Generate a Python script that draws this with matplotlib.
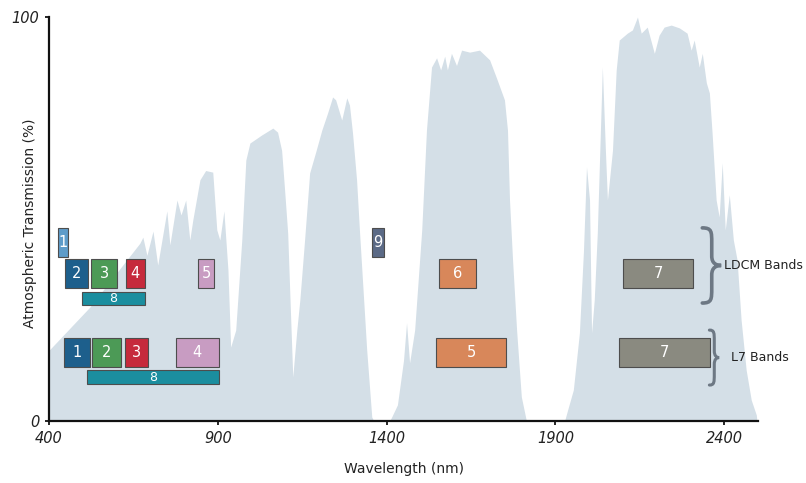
import matplotlib
matplotlib.use("Agg")
import matplotlib.pyplot as plt
from matplotlib.patches import Rectangle, PathPatch
from matplotlib.path import Path

# ---- transmission curve ----
wavelength = [400, 521, 669, 678, 690, 708, 722, 749, 758, 779, 791, 805, 817, 826, 847, 864, 885,
              897, 906, 918, 930, 938, 953, 971, 983, 995, 1030, 1063, 1077, 1089, 1098, 1107, 1116,
              1122, 1134, 1143, 1157, 1172, 1190, 1208, 1225, 1240, 1249, 1267, 1282, 1290, 1299,
              1311, 1320, 1332, 1341, 1356, 1362, 1409, 1415, 1432, 1450, 1459, 1468, 1483, 1504,
              1518, 1533, 1548, 1560, 1572, 1580, 1592, 1607, 1622, 1646, 1675, 1705, 1725, 1749,
              1758, 1764, 1773, 1785, 1799, 1814, 1927, 1936, 1953, 1971, 1983, 1992, 2001, 2007,
              2015, 2024, 2039, 2048, 2054, 2069, 2080, 2089, 2113, 2128, 2143, 2154, 2172, 2193,
              2207, 2222, 2243, 2267, 2290, 2302, 2311, 2326, 2335, 2347, 2356, 2364, 2376, 2385,
              2394, 2403, 2415, 2427, 2438, 2450, 2465, 2480, 2495, 2497]
transmission = [17.5, 28.2, 44.0, 45.5, 41, 47, 38.6, 52, 43.6, 54.7, 51, 54.7, 44.8, 49.8, 59.7, 62, 61.6,
                47.3, 44.8, 52, 37.4, 18.3, 22.5, 44.8, 64.6, 68.8, 70.8, 72.5, 71.5, 67, 57, 46.5, 25,
                10.9, 22.5, 30, 44.8, 61.4, 66.6, 72, 76.2, 80.2, 79.5, 74.5, 80, 78.2, 71.3,
                59.7, 46.5, 30, 17.6, 1, 0, 0, 1, 4, 15, 24.3, 14.4, 22.5, 47.3,
                72, 87.6, 89.9, 86.9, 90.3, 86.9, 91, 88, 91.8, 91.3, 91.8, 89.4, 85, 79.5,
                72, 54.7, 39.9, 22.5, 6, 0, 0, 2.7, 7.7, 21.8, 42, 62.9, 54.7, 21.8,
                30, 46.5, 87.6, 67, 54.7, 67, 86.9, 94.3, 96, 96.8, 100, 96, 97.5, 91,
                95.5, 97.5, 98, 97.3, 96, 91.8, 94.3, 87.6, 91, 83.7, 81.2, 71.3, 54.7, 50.5,
                63.9, 47.3, 56, 44.8, 39.9, 25, 12.6, 5.2, 1.5, 0]

# ---- LDCM (Landsat 8) bands ----
ldcm_labels = ['1', '2', '3', '4', '5', '8', '9', '6', '7']
ldcm_lo = [428, 447, 524, 628, 842, 497, 1357, 1555, 2101]
ldcm_hi = [457, 516, 602, 684, 889, 684, 1392, 1665, 2308]
ldcm_row = ['top', 'main', 'main', 'main', 'main', 'pan', 'top', 'main', 'main']
ldcm_colors = ['#5e9cc9', '#1d5f8c', '#4c9a56', '#c62a3c', '#c89cc2', '#1b8e9f',
               '#5b6a86', '#d8875a', '#8a8a80']

# ---- Landsat 7 bands ----
l7_labels = ['1', '2', '3', '4', '8', '5', '7']
l7_lo = [445, 526, 625, 775, 514, 1547, 2089]
l7_hi = [521, 613, 694, 904, 904, 1754, 2357]
l7_row = ['main', 'main', 'main', 'main', 'pan', 'main', 'main']
l7_colors = ['#1d5f8c', '#4c9a56', '#c62a3c', '#c89cc2', '#1b8e9f', '#d8875a', '#8a8a80']

x_ticks = [400, 900, 1400, 1900, 2400]
y_ticks = [0, 100]

# layout of rows (y extents in % units)
ldcm_rows = {'top': (40.7, 47.8), 'main': (33.0, 40.0), 'pan': (28.6, 32.0)}
l7_rows = {'main': (13.4, 20.6), 'pan': (9.1, 12.6)}

fig = plt.figure(figsize=(8.06, 4.83), dpi=100)
ax = fig.add_axes([49 / 806, 1 - 421 / 483, (758 - 49) / 806, (421 - 17) / 483])

ax.fill_between(wavelength, transmission, 0, color='#d4dfe7', lw=0, zorder=1)

def draw_bands(labels, lo, hi, rows, colors, rowmap):
    for lab, a, b, r, c in zip(labels, lo, hi, rows, colors):
        y0, y1 = rowmap[r]
        ax.add_patch(Rectangle((a, y0), b - a, y1 - y0, facecolor=c,
                               edgecolor='#4d4d4d', lw=0.8, zorder=3))
        fs = 9 if r == 'pan' else 10.5
        ax.text((a + b) / 2, (y0 + y1) / 2, lab, color='white', fontsize=fs,
                ha='center', va='center', zorder=4)

draw_bands(ldcm_labels, ldcm_lo, ldcm_hi, ldcm_row, ldcm_colors, ldcm_rows)
draw_bands(l7_labels, l7_lo, l7_hi, l7_row, l7_colors, l7_rows)

def brace(x0, x1, ylo, yhi, color='#6d7884', lw=2.6):
    ym = (ylo + yhi) / 2
    h = (yhi - ylo) / 2
    w = x1 - x0
    def P(u, v):
        return (x0 + u * w, ym + v * h)
    verts = [P(0, 1), P(0.5, 1), P(0.5, 0.9), P(0.5, 0.6),
             P(0.5, 0.25),
             P(0.5, 0.05), P(0.75, 0.0), P(1, 0),
             P(0.75, 0.0), P(0.5, -0.05), P(0.5, -0.25),
             P(0.5, -0.6),
             P(0.5, -0.9), P(0.5, -1), P(0, -1)]
    codes = [Path.MOVETO, Path.CURVE4, Path.CURVE4, Path.CURVE4,
             Path.LINETO,
             Path.CURVE4, Path.CURVE4, Path.CURVE4,
             Path.CURVE4, Path.CURVE4, Path.CURVE4,
             Path.LINETO,
             Path.CURVE4, Path.CURVE4, Path.CURVE4]
    ax.add_patch(PathPatch(Path(verts, codes), facecolor='none', edgecolor=color,
                           lw=lw, capstyle='round', zorder=3, clip_on=False))

brace(2335, 2391, 29.2, 47.8)
brace(2356, 2385, 8.9, 22.5, lw=2.2)
ax.text(2400, 38.5, 'LDCM Bands', fontsize=9, ha='left', va='center', color='#222222',
        clip_on=False)
ax.text(2420, 15.6, 'L7 Bands', fontsize=9, ha='left', va='center', color='#222222',
        clip_on=False)

ax.set_xlim(400, 2500)
ax.set_ylim(0, 100)
ax.set_xticks(x_ticks)
ax.set_yticks(y_ticks)
ax.set_xticklabels([str(t) for t in x_ticks], fontstyle='italic', fontsize=10.5, color='#222222')
ax.set_yticklabels([str(t) for t in y_ticks], fontstyle='italic', fontsize=10.5, color='#222222')
ax.tick_params(axis='both', direction='out', length=3, width=1.2, pad=4)
for s in ['top', 'right']:
    ax.spines[s].set_visible(False)
for s in ['left', 'bottom']:
    ax.spines[s].set_linewidth(1.6)
    ax.spines[s].set_color('#111111')
    ax.spines[s].set_zorder(5)

ax.set_xlabel('Wavelength (nm)', fontsize=10, color='#222222', labelpad=12)
ax.set_ylabel('Atmospheric Transmission (%)', fontsize=10, color='#222222')
ax.yaxis.set_label_coords(-0.017, 0.49)

fig.savefig('out.png', dpi=100)
